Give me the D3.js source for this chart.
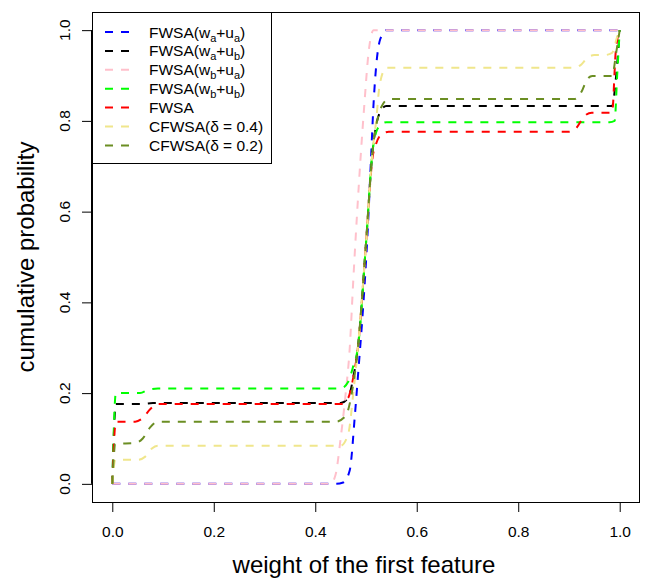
<!DOCTYPE html>
<html>
<head>
<meta charset="utf-8">
<script src="https://cdn.jsdelivr.net/npm/d3@7"></script>
<style>
  body { margin: 0; background: #fff; }
  text { font-family: "Liberation Sans", Arial, sans-serif; fill: #000; }
</style>
</head>
<body>
<div id="root"></div>
<script>
// ---- data ----
const xTicks = [0, 0.2, 0.4, 0.6, 0.8, 1.0];
const yTicks = [0, 0.2, 0.4, 0.6, 0.8, 1.0];

const fwsaWaUa = [[0,0],[0.44,0],[0.455,0.003],[0.468,0.03],[0.478,0.15],[0.485,0.25],[0.495,0.4],[0.503,0.55],[0.51,0.72],[0.515,0.84],[0.52,0.92],[0.528,0.98],[0.54,1],[1,1]];
const fwsaWaUb = [[0,0],[0.007,0.176],[0.06,0.176],[0.08,0.178],[0.45,0.178],[0.465,0.19],[0.475,0.235],[0.484,0.3],[0.5,0.53],[0.513,0.734],[0.52,0.79],[0.528,0.82],[0.54,0.833],[0.985,0.833],[0.993,0.9],[1,1]];
const fwsaWbUa = [[0,0],[0.43,0],[0.44,0.02],[0.45,0.1],[0.46,0.2],[0.468,0.3],[0.475,0.45],[0.49,0.73],[0.497,0.84],[0.505,0.95],[0.515,1],[1,1]];
const fwsaWbUb = [[0,0],[0.007,0.2],[0.055,0.2],[0.07,0.207],[0.09,0.21],[0.45,0.21],[0.465,0.225],[0.475,0.26],[0.484,0.3],[0.5,0.53],[0.513,0.734],[0.52,0.775],[0.528,0.79],[0.54,0.797],[0.98,0.797],[0.99,0.8],[0.995,0.9],[1,1]];
const fwsa     = [[0,0],[0.007,0.137],[0.045,0.137],[0.06,0.145],[0.075,0.165],[0.09,0.176],[0.45,0.176],[0.465,0.19],[0.475,0.235],[0.484,0.3],[0.5,0.53],[0.513,0.72],[0.52,0.75],[0.53,0.77],[0.545,0.776],[0.9,0.776],[0.915,0.785],[0.93,0.81],[0.945,0.818],[0.985,0.818],[0.992,0.95],[1,1]];
const cfwsa04  = [[0,0],[0.006,0.053],[0.05,0.053],[0.065,0.06],[0.078,0.078],[0.09,0.084],[0.45,0.084],[0.465,0.11],[0.475,0.2],[0.484,0.3],[0.5,0.53],[0.513,0.734],[0.52,0.8],[0.527,0.88],[0.54,0.917],[0.91,0.917],[0.925,0.925],[0.935,0.938],[0.95,0.945],[0.97,0.945],[0.985,0.95],[0.995,0.985],[1,1]];
const cfwsa02  = [[0,0],[0.006,0.088],[0.045,0.09],[0.06,0.1],[0.075,0.125],[0.09,0.137],[0.44,0.137],[0.46,0.15],[0.472,0.2],[0.484,0.3],[0.5,0.53],[0.513,0.734],[0.522,0.8],[0.53,0.83],[0.545,0.848],[0.91,0.848],[0.925,0.865],[0.935,0.89],[0.946,0.899],[0.985,0.899],[0.993,0.95],[1,1]];

const series = [
  { name: ["FWSA(w", "a", "+u", "a", ")"], color: "#0000FF", values: fwsaWaUa },
  { name: ["FWSA(w", "a", "+u", "b", ")"], color: "#000000", values: fwsaWaUb },
  { name: ["FWSA(w", "b", "+u", "a", ")"], color: "#FFC0CB", values: fwsaWbUa },
  { name: ["FWSA(w", "b", "+u", "b", ")"], color: "#00FF00", values: fwsaWbUb },
  { name: ["FWSA"], color: "#FF0000", values: fwsa },
  { name: ["CFWSA(\u03B4 = 0.4)"], color: "#F0E68C", values: cfwsa04 },
  { name: ["CFWSA(\u03B4 = 0.2)"], color: "#6B8E23", values: cfwsa02 }
];

// ---- layout ----
const width = 645, height = 578;
const box = { left: 92, right: 640, top: 12, bottom: 502 };

const x = d3.scaleLinear().domain([-0.04, 1.04]).range([box.left, box.right]);
const y = d3.scaleLinear().domain([-0.04, 1.04]).range([box.bottom, box.top]);

const svg = d3.select("#root").append("svg")
  .attr("width", width)
  .attr("height", height);

// curves
const line = d3.line()
  .x(d => x(d[0]))
  .y(d => y(d[1]))
  .curve(d3.curveMonotoneX);

svg.append("g")
  .selectAll("path")
  .data(series)
  .enter()
  .append("path")
  .attr("d", d => line(d.values))
  .attr("fill", "none")
  .attr("stroke", d => d.color)
  .attr("stroke-width", 2)
  .attr("stroke-dasharray", "8,8");

// x axis
const xAxis = svg.append("g")
  .attr("transform", `translate(0,${box.bottom})`)
  .call(d3.axisBottom(x).tickValues(xTicks).tickSize(10).tickPadding(0).tickFormat(d3.format(".1f")));
xAxis.select(".domain").attr("d", `M${x(0)},0.5H${x(1)}`);
xAxis.selectAll("text").attr("y", 35).attr("dy", 0).style("font-size", "15.5px");

// y axis
const yAxis = svg.append("g")
  .attr("transform", `translate(${box.left},0)`)
  .call(d3.axisLeft(y).tickValues(yTicks).tickSize(10).tickFormat(d3.format(".1f")));
yAxis.select(".domain").attr("d", `M-0.5,${y(0)}V${y(1)}`);
yAxis.selectAll("text")
  .attr("x", null).attr("dy", null)
  .attr("text-anchor", "middle")
  .attr("transform", d => `translate(-22,${y(d)}) rotate(-90)`)
  .attr("y", 0)
  .style("font-size", "15.5px");
yAxis.selectAll(".tick").attr("transform", null);
yAxis.selectAll(".tick line").attr("transform", d => `translate(0,${y(d) + 0.5})`);
svg.selectAll(".tick text").style("font-family", "'Liberation Sans', Arial, sans-serif");

// plot box
svg.append("rect")
  .attr("x", box.left + 0.5)
  .attr("y", box.top + 0.5)
  .attr("width", box.right - box.left - 1)
  .attr("height", box.bottom - box.top)
  .attr("fill", "none")
  .attr("stroke", "#000");

// axis titles
svg.append("text")
  .attr("x", (box.left + box.right) / 2 - 2)
  .attr("y", 573)
  .attr("text-anchor", "middle")
  .style("font-size", "24px")
  .text("weight of the first feature");

svg.append("text")
  .attr("transform", `translate(34,${(box.top + box.bottom) / 2}) rotate(-90)`)
  .attr("text-anchor", "middle")
  .style("font-size", "24px")
  .text("cumulative probability");

// legend
const legend = svg.append("g");
legend.append("rect")
  .attr("x", box.left + 0.5)
  .attr("y", box.top + 0.5)
  .attr("width", 179)
  .attr("height", 151)
  .attr("fill", "#fff")
  .attr("stroke", "#000");

series.forEach((s, i) => {
  const ly = 32 + i * 18.9;
  legend.append("line")
    .attr("x1", 105).attr("x2", 129)
    .attr("y1", ly).attr("y2", ly)
    .attr("stroke", s.color)
    .attr("stroke-width", 2)
    .attr("stroke-dasharray", "8,8");
  const t = legend.append("text")
    .attr("x", 149)
    .attr("y", ly + 5.5)
    .style("font-size", "15.5px");
  s.name.forEach((part, j) => {
    const sub = j % 2 === 1;
    t.append("tspan")
      .attr("dy", sub ? 4 : (j > 0 ? -4 : 0))
      .style("font-size", sub ? "11px" : "15.5px")
      .text(part);
  });
});
</script>
</body>
</html>
